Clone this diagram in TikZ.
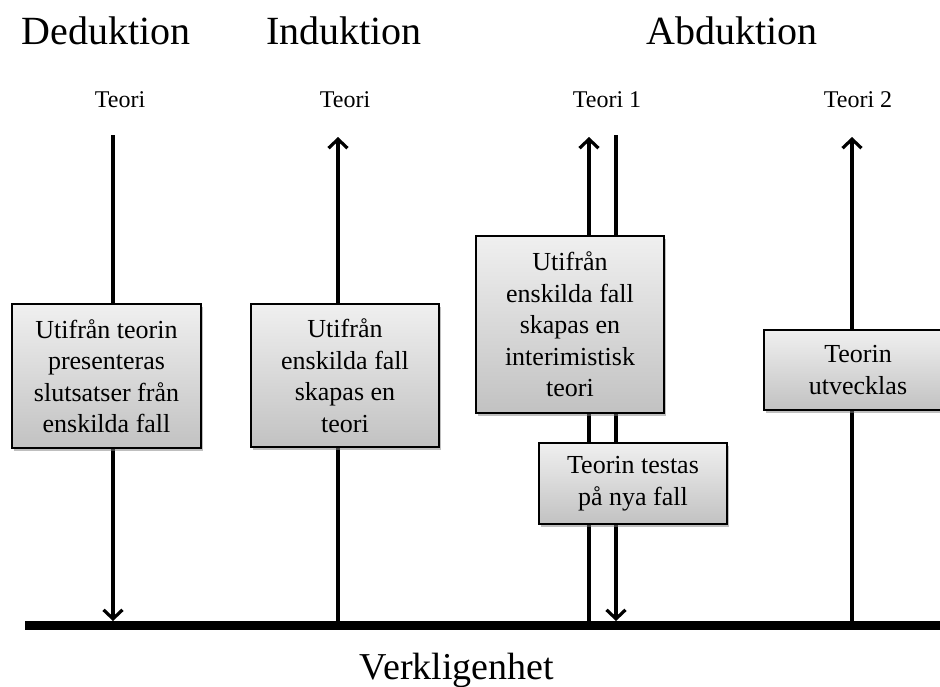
\documentclass[tikz,border=0pt]{standalone}
\usepackage{fontspec}
\setmainfont{Liberation Serif}
\usetikzlibrary{arrows.meta,shadows}
\begin{document}
\begin{tikzpicture}[x=1pt,y=-1pt,
  title/.style={font=\fontsize{40}{44}\selectfont, anchor=base},
  teorilbl/.style={font=\fontsize{24}{28}\selectfont, anchor=base},
  infobox/.style={draw=black, line width=1.6pt, top color=black!6, bottom color=black!24,
    font=\fontsize{26}{31.5}\selectfont, align=center, inner sep=0pt,
    drop shadow={shadow xshift=1.5pt, shadow yshift=-2.5pt, fill=black!50, opacity=0.5}},
  vline/.style={line width=3.5pt},
  tip/.style={-{Straight Barb[length=9pt,width=19pt,line width=3.2pt]}}
]
\useasboundingbox (0,0) rectangle (940,686);
\begin{scope}
\clip (0,0) rectangle (940,686);
% titles
\node[title] (ded) at (106,44) {Deduktion};
\node[title] (ind) at (344,44) {Induktion};
\node[title] (abd) at (732,44) {Abduktion};
% teori labels
\node[teorilbl] (t0) at (120,107) {Teori};
\node[teorilbl] (t1) at (345,107) {Teori};
\node[teorilbl] (t2) at (607,107) {Teori 1};
\node[teorilbl] (t3) at (858,107) {Teori 2};
% baseline bar
\fill[black] (25,620.5) rectangle (945,629.5);
\coordinate (b1) at (113,621);
\coordinate (b2) at (338,621);
\coordinate (b3) at (589,621);
\coordinate (b4) at (616,621);
\coordinate (b5) at (852,621);
\coordinate (u1) at (113,135);
\coordinate (u2) at (338,137);
\coordinate (u3) at (589,137);
\coordinate (u4) at (616,135);
\coordinate (u5) at (852,137);
% vertical lines
\draw[vline,tip] (u1) -- (b1);
\draw[vline,tip] (b2) -- (u2);
\draw[vline,tip] (b3) -- (u3);
\draw[vline,tip] (u4) -- (b4);
\draw[vline,tip] (b5) -- (u5);
% boxes
\node[infobox, minimum width=189pt, minimum height=144pt] (box1) at (106.5,376)
  {Utifrån teorin\\presenteras\\slutsatser från\\enskilda fall};
\node[infobox, minimum width=188pt, minimum height=143pt] (box2) at (345,375.5)
  {Utifrån\\enskilda fall\\skapas en\\teori};
\node[infobox, minimum width=188pt, minimum height=177pt] (box3) at (570,324.5)
  {Utifrån\\enskilda fall\\skapas en\\interimistisk\\teori};
\node[infobox, minimum width=188pt, minimum height=81pt] (box4) at (633,483.5)
  {Teorin testas\\på nya fall};
\node[infobox, minimum width=188pt, minimum height=80pt] (box5) at (858,370)
  {Teorin\\utvecklas};
% bottom label
\node[font=\fontsize{38}{42}\selectfont, anchor=base] (verk) at (457,679) {Verkligenhet};
\end{scope}
\end{tikzpicture}
\end{document}
